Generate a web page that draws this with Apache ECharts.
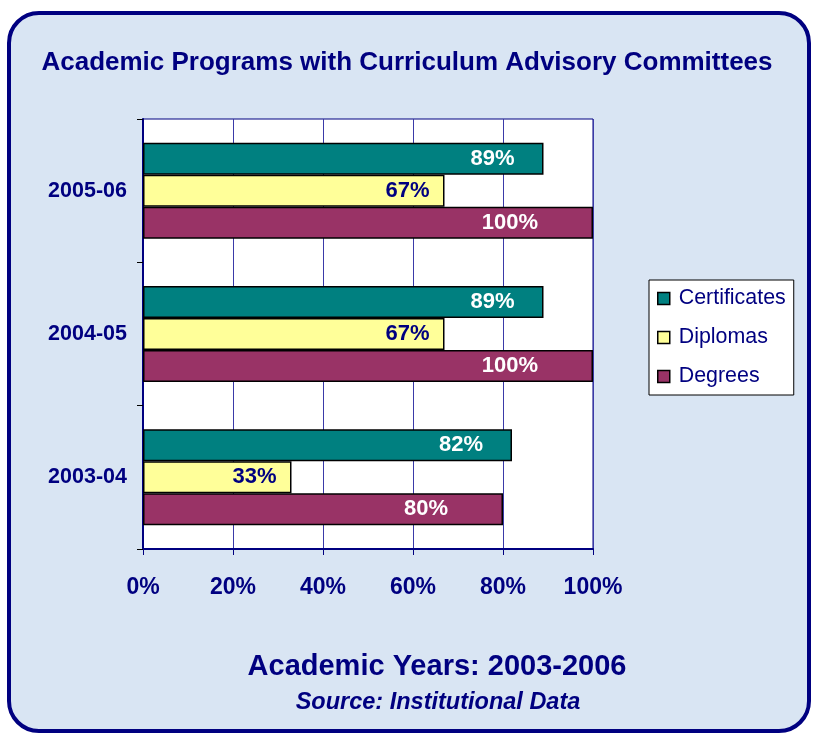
<!DOCTYPE html>
<html>
<head>
<meta charset="utf-8">
<title>Academic Programs with Curriculum Advisory Committees</title>
<script src="https://cdn.jsdelivr.net/npm/echarts@6/dist/echarts.min.js"></script>
<style>
  html, body { margin: 0; padding: 0; background: #fff; }
  #chart { width: 814px; height: 735px; }
</style>
</head>
<body>
<div id="chart"></div>
<script>
  // academic years, bottom to top as drawn
  var years = ['2003-04', '2004-05', '2005-06']
  // percent of programs with an advisory committee
  var certificates = [82, 89, 89]
  var diplomas = [33, 67, 67]
  var degrees = [80, 100, 100]
  var xTicks = [0, 20, 40, 60, 80, 100]

  var navy = '#000080'
  var font = '"Liberation Sans", Arial, sans-serif'

  function barSeries(name, data, color, labelColor, gap) {
    return {
      name: name,
      type: 'bar',
      data: data,
      barGap: '0%',
      barCategoryGap: '33%',
      itemStyle: { color: color, borderColor: '#000', borderWidth: 1.5 },
      label: {
        show: true,
        position: 'insideRight',
        distance: gap,
        formatter: '{c}%',
        color: labelColor,
        fontFamily: font,
        fontWeight: 'bold',
        fontSize: 22
      },
      animation: false
    }
  }

  var chart = echarts.init(document.getElementById('chart'))
  chart.setOption({
    backgroundColor: '#fff',
    textStyle: { fontFamily: font },
    graphic: [{
      type: 'rect',
      z: -10,
      silent: true,
      shape: { x: 9, y: 13, width: 800, height: 718, r: 30 },
      style: { fill: '#d9e5f3', stroke: navy, lineWidth: 4 }
    }],
    title: [{
      text: 'Academic Programs with Curriculum Advisory Committees',
      left: 'center',
      top: 45,
      textStyle: { color: navy, fontFamily: font, fontWeight: 'bold', fontSize: 26 }
    }, {
      text: 'Academic Years: 2003-2006',
      left: 432,
      textAlign: 'center',
      top: 647,
      textStyle: { color: navy, fontFamily: font, fontWeight: 'bold', fontSize: 29 }
    }, {
      text: 'Source: Institutional Data',
      left: 433,
      textAlign: 'center',
      top: 686,
      textStyle: { color: navy, fontFamily: font, fontWeight: 'bold', fontStyle: 'italic', fontSize: 23.5 }
    }],
    legend: {
      orient: 'vertical',
      left: 649,
      top: 280,
      data: ['Certificates', 'Diplomas', 'Degrees'],
      icon: 'rect',
      itemWidth: 12,
      itemHeight: 12,
      itemGap: 18,
      padding: [8, 8, 8, 8],
      backgroundColor: '#fff',
      borderColor: '#000',
      borderWidth: 1,
      borderRadius: 0,
      itemStyle: { borderColor: '#000', borderWidth: 1.5 },
      textStyle: { color: navy, fontFamily: font, fontSize: 21.4, lineHeight: 20, padding: [0, 0, 0, 4] }
    },
    grid: {
      left: 143,
      right: 221,
      top: 119,
      bottom: 186,
      show: true,
      backgroundColor: '#fff',
      borderColor: navy,
      borderWidth: 1
    },
    xAxis: {
      type: 'value',
      min: xTicks[0],
      max: xTicks[xTicks.length - 1],
      interval: 20,
      axisLine: { show: true, lineStyle: { color: navy, width: 2 } },
      axisTick: { show: true, length: 6, lineStyle: { color: navy } },
      splitLine: { show: true, lineStyle: { color: '#3a3aa8', width: 1 } },
      axisLabel: {
        formatter: '{value}%',
        color: navy,
        fontFamily: font,
        fontWeight: 'bold',
        fontSize: 23,
        margin: 27
      }
    },
    yAxis: {
      type: 'category',
      data: years,
      axisLine: { show: true, lineStyle: { color: navy, width: 2 } },
      axisTick: { show: true, length: 6, lineStyle: { color: '#000' } },
      axisLabel: {
        color: navy,
        fontFamily: font,
        fontWeight: 'bold',
        fontSize: 21.5,
        margin: 16
      }
    },
    series: [
      barSeries('Certificates', certificates, '#008080', '#fff', 29),
      barSeries('Diplomas', diplomas, '#ffff99', navy, 15),
      barSeries('Degrees', degrees, '#993366', '#fff', 55)
    ]
  })
</script>
</body>
</html>
